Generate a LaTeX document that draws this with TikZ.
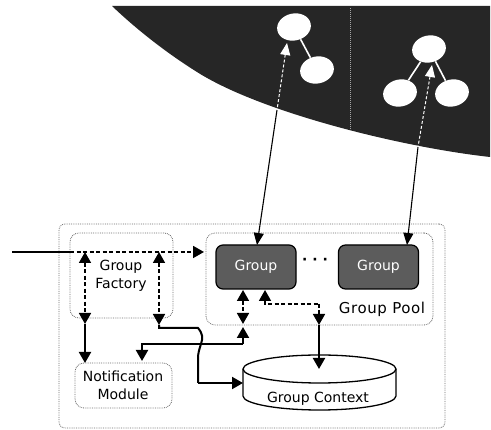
\documentclass[tikz,border=0pt]{standalone}
\usepackage{fontspec}
\setmainfont{DejaVu Sans}
\usetikzlibrary{arrows.meta,shapes.geometric}
\definecolor{dark}{gray}{0.15}
\definecolor{groupdark}{gray}{0.36}
\definecolor{dotgray}{gray}{0.42}
\tikzset{
  x=1pt,y=-1pt,
  every node/.style={font=\fontsize{14}{18}\selectfont, align=center, inner sep=0pt},
  dotbox/.style={draw=dotgray, densely dotted, line width=0.8pt, rounded corners=9pt, minimum width=#1},
  groupbox/.style={draw=black, line width=1.2pt, fill=groupdark, text=white, rounded corners=7pt, minimum width=80pt, minimum height=44pt},
  blob/.style={ellipse, fill=white, minimum width=34pt, minimum height=27pt, rotate=12},
  link/.style={draw=white, line width=1.6pt},
  tip/.style={-{Triangle[length=11pt,width=12pt]}},
  tips/.style={{Triangle[length=11pt,width=12pt]}-{Triangle[length=11pt,width=12pt]}},
  solidc/.style={draw=black, line width=2pt},
  dashc/.style={draw=black, line width=1.8pt, dash pattern=on 4pt off 2.5pt},
  thinc/.style={draw=black, line width=1.1pt},
}
\begin{document}
\begin{tikzpicture}
\useasboundingbox (0,0) rectangle (491,430);
% dark region
\fill[dark] (112,6) -- (490,6) -- (490,157)
  .. controls (400,147) and (260,112) .. (197,72)
  .. controls (165,52) and (135,28) .. (112,6) -- cycle;
\draw[gray!70, line width=1pt, densely dotted] (350,8) -- (350,130);
% groups of the upper layer
\node[blob] (a1) at (294,27) {};
\node[blob] (a2) at (317,70) {};
\node[blob] (b1) at (429,49) {};
\node[blob] (b2) at (400,93) {};
\node[blob] (b3) at (452,93) {};
\draw[link] (a1) -- (a2);
\draw[link] (b1) -- (b2);
\draw[link] (b1) -- (b3);
% boxes
\node[draw=dotgray, densely dotted, line width=0.8pt, rounded corners=6pt, minimum width=386pt, minimum height=204pt] (outer) at (252,326) {};
\node[dotbox=103pt, minimum height=85pt] (factory) at (121.5,275.5) {};
\node[dotbox=97pt, minimum height=45pt] (notify) at (123.5,385.5) {};
\node[dotbox=227pt, minimum height=92pt] (pool) at (319.5,279) {};
\node (factorylabel) at (121,276) {Group\\Factory};
\node (notifylabel) at (123,385) {Notification\\Module};
\node[font=\fontsize{15}{18}\selectfont] (poollabel) at (382,309) {\addfontfeatures{LetterSpace=4}Group Pool};
\node[groupbox] (g1) at (256,267) {Group};
\node[groupbox] (g2) at (378.5,267) {Group};
\node[font=\fontsize{14}{16}\selectfont\bfseries] (dots) at (315,261) {· · ·};
% cylinder
\coordinate (cyl) at (319.5,369);
\draw[black, line width=1.3pt, fill=white] (243,369)
  .. controls (243,361.3) and (277.5,355) .. (319.5,355)
  .. controls (361.5,355) and (396,361.3) .. (396,369)
  -- (396,396)
  .. controls (396,403.7) and (361.5,410) .. (319.5,410)
  .. controls (277.5,410) and (243,403.7) .. (243,396) -- cycle;
\draw[black, line width=1.3pt] (243,369)
  .. controls (243,376.7) and (277.5,383) .. (319.5,383)
  .. controls (361.5,383) and (396,376.7) .. (396,369);
\node (ctx) at (318,399) {Group Context};
% named ends
\coordinate (in) at (12,252);
\coordinate (inB) at (70,252);
\coordinate (inE) at (204,252);
\coordinate (fa) at (85,252);
\coordinate (fb) at (85,324);
\coordinate (fc) at (159,252);
\coordinate (fd) at (159,325);
\coordinate (nt) at (85,363);
\coordinate (k1) at (159,328);
\coordinate (k2) at (198,328);
\coordinate (k3) at (198,383);
\coordinate (ce) at (243,383);
\coordinate (m1) at (142,361);
\coordinate (m2) at (142,344);
\coordinate (m3) at (243,344);
\coordinate (m4) at (243,327);
\coordinate (gd) at (243,324);
\coordinate (ga) at (243,290);
\coordinate (gb) at (265,290);
\coordinate (gc) at (265,304);
\coordinate (ge) at (319,304);
\coordinate (gf) at (319,325);
\coordinate (gg) at (319,369);
% connectors
\draw[solidc] (in) -- (inB);
\draw[dashc,tip] (inB) -- (inE);
\draw[dashc,tips] (fa) -- (fb);
\draw[dashc,tips] (fc) -- (fd);
\draw[solidc,tip] (fb) -- (nt);
\draw[solidc] (fd) -- (k1) -- (k2) .. controls (203,334) and (203,338) .. (201,344) .. controls (199,350) and (198,354) .. (198,358) -- (k3);
\draw[solidc,tip] (k3) -- (ce);
\draw[solidc,tip] (m3) -- (m2) -- (m1);
\draw[solidc,tip] (m3) -- (m4);
\draw[dashc,tips] (ga) -- (gd);
\draw[dashc,{Triangle[length=11pt,width=12pt]}-] (gb) -- (gc) -- (ge);
\draw[dashc,tip] (ge) -- (gf);
\draw[solidc,tip] (gf) -- (gg);
% arrows to the upper layer
\coordinate (u1) at (287,43);
\coordinate (u2) at (432,65);
\coordinate (u1m) at (277,110);
\coordinate (u2m) at (418,147);
\draw[thinc,{Triangle[length=12pt,width=10pt]}-] (257,245) -- (u1m);
\draw[thinc,{Triangle[length=12pt,width=10pt]}-] (407,245) -- (u2m);
\draw[draw=white, line width=1pt, densely dashed, {Triangle[length=12pt,width=10pt]}-] (u1) -- (u1m);
\draw[draw=white, line width=1pt, densely dashed, {Triangle[length=12pt,width=10pt]}-] (u2) -- (u2m);
\end{tikzpicture}
\end{document}
